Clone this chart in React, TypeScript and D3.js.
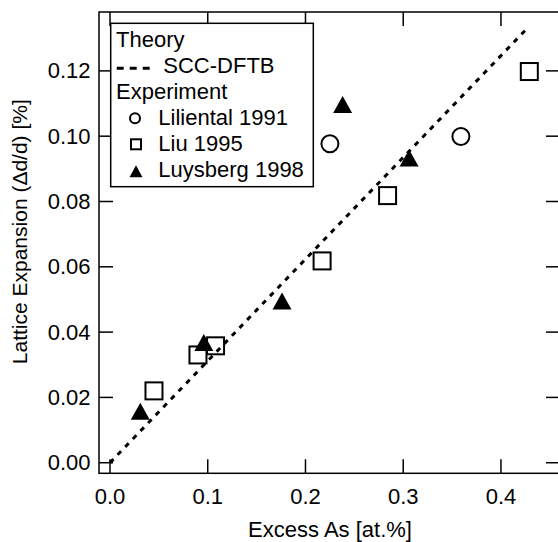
import { useRef, useEffect } from "react"
import * as d3 from "d3"

// Liliental 1991 (open circles)
const lilientalX = [0.225, 0.359]
const lilientalY = [0.0977, 0.0999]

// Liu 1995 (open squares)
const liuX = [0.045, 0.09, 0.108, 0.217, 0.284, 0.429]
const liuY = [0.022, 0.033, 0.0358, 0.0618, 0.0818, 0.1198]

// Luysberg 1998 (filled triangles)
const luysbergX = [0.031, 0.096, 0.176, 0.238, 0.306]
const luysbergY = [0.0158, 0.0368, 0.0495, 0.1097, 0.0933]

// SCC-DFTB theory line
const theoryX = [0, 0.428]
const theoryY = [0, 0.1334]

const xTicks = [0, 0.1, 0.2, 0.3, 0.4]
const yTicks = [0, 0.02, 0.04, 0.06, 0.08, 0.1, 0.12]

const legendItems = ["Theory", "SCC-DFTB", "Experiment", "Liliental 1991", "Liu 1995", "Luysberg 1998"]

const FONT = "'Liberation Sans', Arial, Helvetica, sans-serif"

const tri = (w: number, h: number) => `M${-w / 2},${h / 2}L${w / 2},${h / 2}L0,${-h / 2}Z`

const App = () => {
  const svgRef = useRef<SVGSVGElement>(null)

  useEffect(() => {
    const svg = d3.select(svgRef.current)
    svg.selectAll("*").remove()

    const left = 99
    const right = 560
    const top = 12
    const bottom = 473.3

    const x = d3.scaleLinear().domain([-0.01125, 0.4604]).range([left, right])
    const y = d3.scaleLinear().domain([-0.00324, 0.13803]).range([bottom, top])
    const tickLen = 14

    const g = svg.append("g")

    // frame
    g.append("rect")
      .attr("x", left)
      .attr("y", top)
      .attr("width", right - left)
      .attr("height", bottom - top)
      .attr("fill", "none")
      .attr("stroke", "#000")
      .attr("stroke-width", 1.5)

    // ticks, inward on all four sides
    xTicks.forEach((t) => {
      g.append("line").attr("x1", x(t)).attr("x2", x(t)).attr("y1", bottom).attr("y2", bottom - tickLen)
        .attr("stroke", "#000").attr("stroke-width", 1.5)
      g.append("line").attr("x1", x(t)).attr("x2", x(t)).attr("y1", top).attr("y2", top + tickLen)
        .attr("stroke", "#000").attr("stroke-width", 1.5)
      g.append("text")
        .attr("x", x(t))
        .attr("y", 503.5)
        .attr("text-anchor", "middle")
        .style("font-family", FONT)
        .style("font-size", "22px")
        .text(d3.format(".1f")(t))
    })
    yTicks.forEach((t) => {
      g.append("line").attr("x1", left).attr("x2", left + tickLen).attr("y1", y(t)).attr("y2", y(t))
        .attr("stroke", "#000").attr("stroke-width", 1.5)
      g.append("line").attr("x1", right).attr("x2", right - tickLen).attr("y1", y(t)).attr("y2", y(t))
        .attr("stroke", "#000").attr("stroke-width", 1.5)
      g.append("text")
        .attr("x", 90.5)
        .attr("y", y(t) + 7.5)
        .attr("text-anchor", "end")
        .style("font-family", FONT)
        .style("font-size", "22px")
        .text(d3.format(".2f")(t))
    })

    // axis titles
    g.append("text")
      .attr("x", 330)
      .attr("y", 536.5)
      .attr("text-anchor", "middle")
      .style("font-family", FONT)
      .style("font-size", "22px")
      .text("Excess As [at.%]")
    g.append("text")
      .attr("transform", "translate(27,231.7) rotate(-90)")
      .attr("text-anchor", "middle")
      .style("font-family", FONT)
      .style("font-size", "21px")
      .text("Lattice Expansion (Δd/d) [%]")

    // theory line
    const line = d3.line<number>().x((d, i) => x(theoryX[i])).y((d) => y(d))
    g.append("path")
      .datum(theoryY)
      .attr("d", line)
      .attr("fill", "none")
      .attr("stroke", "#000")
      .attr("stroke-width", 3)
      .attr("stroke-dasharray", "5,6")

    // Liliental circles
    lilientalX.forEach((v, i) => {
      g.append("circle").attr("cx", x(v)).attr("cy", y(lilientalY[i])).attr("r", 8.5)
        .attr("fill", "none").attr("stroke", "#000").attr("stroke-width", 2)
    })
    // Liu squares
    liuX.forEach((v, i) => {
      g.append("rect").attr("x", x(v) - 8.5).attr("y", y(liuY[i]) - 8.5).attr("width", 17).attr("height", 17)
        .attr("fill", "none").attr("stroke", "#000").attr("stroke-width", 2)
    })
    // Luysberg triangles
    luysbergX.forEach((v, i) => {
      g.append("path").attr("d", tri(19, 17)).attr("transform", `translate(${x(v)},${y(luysbergY[i])})`)
        .attr("fill", "#000")
    })

    // legend
    const lg = g.append("g")
    lg.append("rect")
      .attr("x", 110.7)
      .attr("y", 23.3)
      .attr("width", 202.6)
      .attr("height", 163.4)
      .attr("fill", "#fff")
      .attr("stroke", "#000")
      .attr("stroke-width", 1.5)
    const textX = [116, 163.3, 116, 158.3, 158.3, 158.3]
    legendItems.forEach((label, i) => {
      const base = 47.3 + i * 26
      lg.append("text")
        .attr("x", textX[i])
        .attr("y", base)
        .style("font-family", FONT)
        .style("font-size", "22px")
        .text(label)
      const my = base - 7
      if (i === 1) {
        lg.append("line").attr("x1", 116.7).attr("x2", 150).attr("y1", my + 2).attr("y2", my + 2)
          .attr("stroke", "#000").attr("stroke-width", 3).attr("stroke-dasharray", "7,6")
      } else if (i === 3) {
        lg.append("circle").attr("cx", 135).attr("cy", my).attr("r", 5)
          .attr("fill", "none").attr("stroke", "#000").attr("stroke-width", 2)
      } else if (i === 4) {
        lg.append("rect").attr("x", 131).attr("y", my - 5).attr("width", 10).attr("height", 10)
          .attr("fill", "none").attr("stroke", "#000").attr("stroke-width", 2)
      } else if (i === 5) {
        lg.append("path").attr("d", tri(13, 12)).attr("transform", `translate(136,${my + 1})`).attr("fill", "#000")
      }
    })
  }, [])

  return (
    <div>
      <svg ref={svgRef} width={558} height={542} style={{ position: "absolute", left: 0, top: 0 }}></svg>
    </div>
  )
}

export default App
